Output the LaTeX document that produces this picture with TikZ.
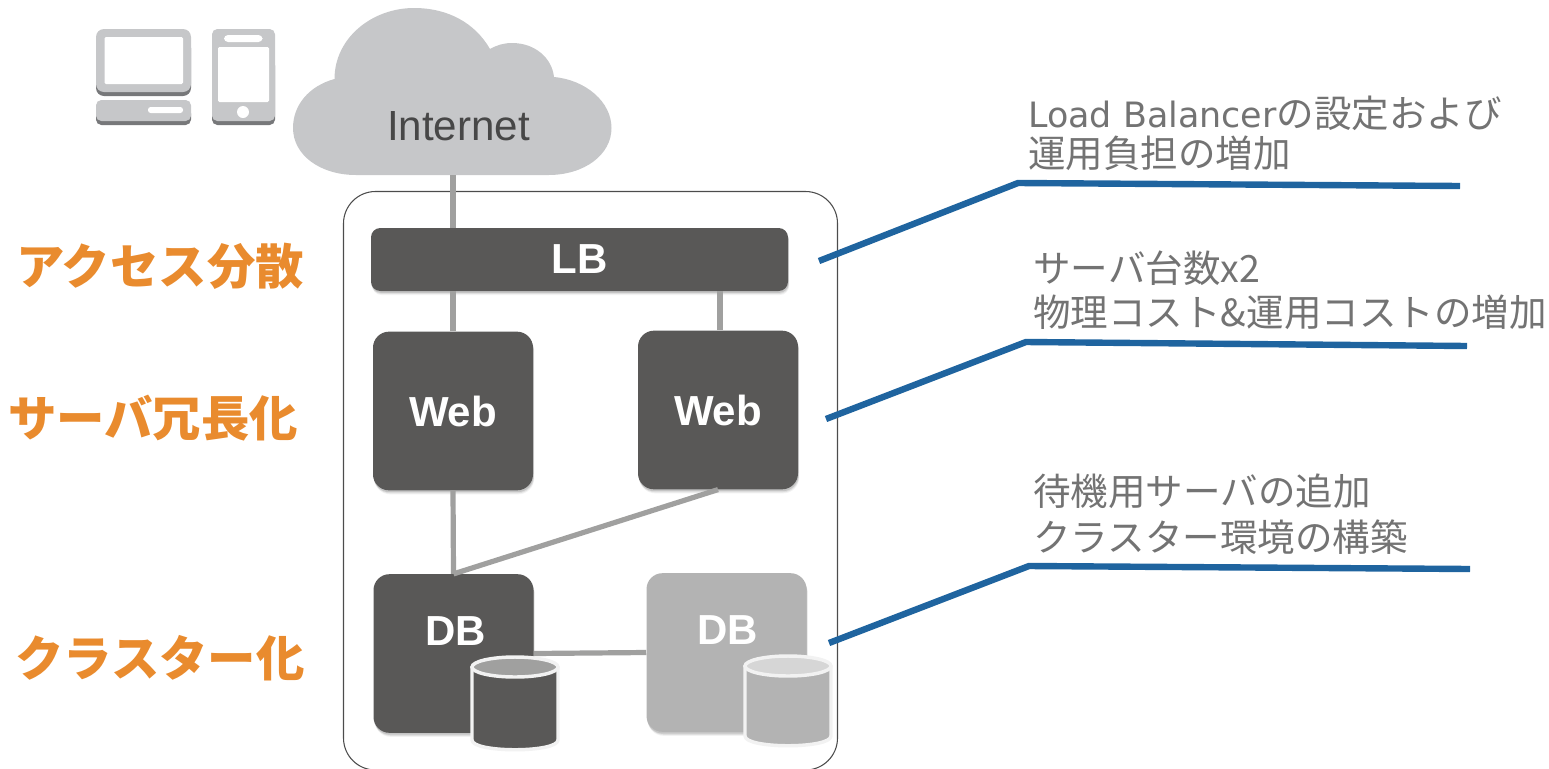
\documentclass[tikz,border=0pt]{standalone}
\usepackage{fontspec}
\setmainfont{Liberation Sans}
\newfontfamily\jpfont{Noto Sans CJK JP}
\newfontfamily\latinjp[Scale=0.93]{DejaVu Sans}
\usetikzlibrary{shadows}
\definecolor{boxdark}{HTML}{595857}
\definecolor{boxlight}{HTML}{B3B3B3}
\definecolor{cloudgrey}{HTML}{C6C7C9}
\definecolor{icondark}{HTML}{77787A}
\definecolor{wiregrey}{HTML}{A0A09F}
\definecolor{bluewire}{HTML}{1F649F}
\definecolor{orangetxt}{HTML}{E98B2E}
\definecolor{greytxt}{HTML}{737373}
\definecolor{rimgrey}{HTML}{F2F2F2}
\tikzset{
  softshadow/.style={
    drop shadow={shadow xshift=0.9pt,shadow yshift=-3pt,opacity=.05,fill=black},
    drop shadow={shadow xshift=0.7pt,shadow yshift=-2.2pt,opacity=.08,fill=black},
    drop shadow={shadow xshift=0.4pt,shadow yshift=-1.4pt,opacity=.12,fill=black}},
  srvbox/.style={rectangle,rounded corners=12pt,minimum width=120pt,minimum height=119pt,inner sep=0pt,fill=boxdark,softshadow,text=white,font=\fontsize{31.5}{31.5}\selectfont\bfseries},
  dblabel/.style={inner sep=0pt,text=white,font=\fontsize{31.5}{31.5}\selectfont\bfseries},
  wire/.style={draw=wiregrey,line width=3.9pt},
  note/.style={draw=bluewire,line width=4.8pt,line join=round},
  sidelabel/.style={inner sep=0pt,text=orangetxt,font=\fontsize{36.3}{37}\selectfont\jpfont\bfseries},
  notetxt/.style={inner sep=0pt,anchor=west,text=greytxt,font=\fontsize{28.15}{28.15}\selectfont\jpfont},
  iconshape/.style={fill=cloudgrey,draw=none},
  icondarkshape/.style={fill=icondark,draw=none},
  iconhole/.style={fill=white,draw=none},
}
\newcommand{\dbcyl}[5]{%
  \filldraw[draw=rimgrey,line width=2.6pt,fill=#4,line join=round]
    (#1-43,#2) -- (#1-43,#3-9) .. controls (#1-43,#3+4) and (#1+43,#3+4) .. (#1+43,#3-9) -- (#1+43,#2) -- cycle;
  \filldraw[draw=rimgrey,line width=2.6pt,fill=#5] (#1,#2) ellipse [x radius=43,y radius=10];
}
\begin{document}
\begin{tikzpicture}[x=0.75pt,y=-0.75pt]
\useasboundingbox (0,0) rectangle (1549,768);
% devices
\fill[icondarkshape,rounded corners=6pt] (96,40) rectangle (191,96);
\fill[iconshape,rounded corners=6pt] (96,29) rectangle (191,92);
\fill[iconhole,rounded corners=1pt] (104.5,37) rectangle (183,84);
\fill[icondarkshape,rounded corners=4pt] (96,108) rectangle (191,125);
\fill[iconshape,rounded corners=4pt] (96,100) rectangle (191,121);
\fill[iconhole,rounded corners=2pt] (148,107) rectangle (183,113);
\fill[icondarkshape,rounded corners=4pt] (212,60) rectangle (275,125);
\fill[iconshape,rounded corners=4pt] (212,29) rectangle (275,121);
\fill[iconhole,rounded corners=3pt] (224,35) rectangle (262.5,42);
\fill[iconhole,rounded corners=1pt] (218,47) rectangle (269,102);
\fill[iconhole] (243,112) circle [radius=6];
% cloud
\fill[cloudgrey] (334.5,79)
  .. controls (334.5,38) and (372,8) .. (414,8)
  .. controls (448,8) and (475,23) .. (490,49)
  .. controls (497,45) and (504,43) .. (512,43)
  .. controls (535,43) and (552,58) .. (554,77)
  .. controls (586,80) and (611.5,102) .. (611.5,128)
  .. controls (611.5,155) and (584,175) .. (548.5,175)
  -- (356,175)
  .. controls (320,175) and (293,155) .. (293,128)
  .. controls (293,105) and (309,86) .. (334.5,79) -- cycle;
\node[minimum width=239pt,minimum height=125pt,inner sep=0pt] (cloud) at (453,91.5) {};
\node[inner sep=0pt,text=black!72,font=\fontsize{31.6}{32}\selectfont] (inet) at (458.5,126) {Internet};
% container
\draw[draw=black!70,line width=0.8pt,rounded corners=24pt] (343.5,191.5) rectangle (837.5,770);
% servers
\node[rectangle,rounded corners=7pt,minimum width=312.75pt,minimum height=47.25pt,inner sep=0pt,fill=boxdark,softshadow,text=white,font=\fontsize{31.5}{31.5}\selectfont\bfseries] (lb) at (579.5,259.5) {\raisebox{-4pt}{LB}};
\node[srvbox] (web1) at (453,411) {\raisebox{-3.5pt}{Web}};
\node[srvbox] (web2) at (718,410) {\raisebox{-3.5pt}{Web}};
\node[srvbox] (db1) at (453.5,653.5) {};
\node[srvbox,fill=boxlight] (db2) at (726.5,652.5) {};
\node[dblabel] (db1t) at (455.5,631) {DB};
\node[dblabel] (db2t) at (727.5,630) {DB};
% wires
\draw[wire] (cloud.south) -- (cloud.south |- lb.north);
\draw[wire] (web1.north) -- (web1.north |- lb.south);
\draw[wire] ([xshift=1.5pt]web2.north) -- ([xshift=1.5pt]web2.north |- lb.south);
\draw[wire] (web1.south) -- (db1.north);
\draw[wire] (web2.south) -- (db1.north);
\draw[wire] (db1.east) -- (db2.west);
% cylinders
\dbcyl{515}{667}{749}{boxdark}{wiregrey}
\dbcyl{788}{666}{745}{boxlight}{black!16}
% side labels
\node[sidelabel] (s1) at (160,266) {アクセス分散};
\node[sidelabel] (s2) at (153,418) {サーバ冗長化};
\node[sidelabel] (s3) at (160,658) {クラスター化};
% notes
\coordinate (a1) at (819,261); \coordinate (a2) at (1018,183); \coordinate (a3) at (1460,186);
\coordinate (b1) at (826,419); \coordinate (b2) at (1026,342); \coordinate (b3) at (1467,346);
\coordinate (c1) at (829,643); \coordinate (c2) at (1029,566); \coordinate (c3) at (1470,569);
\draw[note] (a1) -- (a2) -- (a3);
\draw[note] (b1) -- (b2) -- (b3);
\draw[note] (c1) -- (c2) -- (c3);
\node[notetxt] (t1a) at (1028,113) {{\latinjp Load Balancer}の設定および};
\node[notetxt] (t1b) at (1028,153) {運用負担の増加};
\node[notetxt] (t2a) at (1033,268) {サーバ台数x2};
\node[notetxt] (t2b) at (1033,312) {物理コスト\&運用コストの増加};
\node[notetxt] (t3a) at (1033,491) {待機用サーバの追加};
\node[notetxt] (t3b) at (1033,537) {クラスター環境の構築};
\end{tikzpicture}
\end{document}
